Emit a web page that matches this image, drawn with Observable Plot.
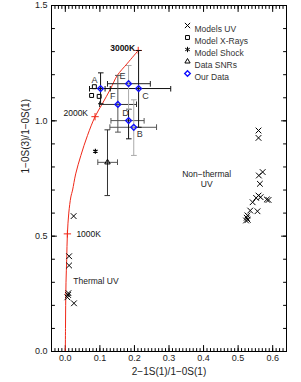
<!DOCTYPE html>
<html><head><meta charset="utf-8">
<script src="https://cdn.jsdelivr.net/npm/d3@7"></script>
<script src="https://cdn.jsdelivr.net/npm/@observablehq/plot@0.6"></script>
<style>body{margin:0;background:#fff}#chart svg{display:block}</style>
</head><body><div id="chart"></div>
<script>
// ---- data ----
const curveX = [0, 0.0005, 0.001, 0.002, 0.004, 0.006, 0.010, 0.016, 0.021, 0.030, 0.045, 0.064, 0.086, 0.107, 0.131, 0.150, 0.180, 0.211];
const curveY = [0, 0.10, 0.20, 0.30, 0.40, 0.51, 0.60, 0.67, 0.70, 0.77, 0.85, 0.936, 1.018, 1.074, 1.139, 1.196, 1.25, 1.305];
const tempLabels = ["1000K", "2000K", "3000K"];
const tempX = [0.006, 0.086, 0.211];
const tempY = [0.51, 1.018, 1.305];

const uvX = [0.024, 0.011, 0.011, 0.009, 0.008, 0.006, 0.025,
  0.559, 0.559, 0.571, 0.560, 0.563, 0.559, 0.552, 0.565, 0.542, 0.583, 0.588, 0.556, 0.535, 0.527, 0.525, 0.528, 0.523];
const uvY = [0.587, 0.413, 0.373, 0.253, 0.245, 0.235, 0.209,
  0.958, 0.926, 0.778, 0.763, 0.727, 0.676, 0.666, 0.669, 0.647, 0.659, 0.657, 0.608, 0.611, 0.590, 0.580, 0.571, 0.568];

const xrayX = [0.084, 0.076, 0.098];
const xrayY = [1.148, 1.110, 1.106];

const shockX = [0.087];
const shockY = [0.868];

const snrX = [0.122], snrY = [0.820];
const snrXlo = [0.094], snrXhi = [0.151], snrYlo = [0.676], snrYhi = [0.961];

const ourLabels = ["A", "B", "C", "D", "E", "F"];
const ourX   = [0.102, 0.198, 0.212, 0.183, 0.183, 0.152];
const ourY   = [1.140, 0.972, 1.140, 1.001, 1.161, 1.071];
const ourXlo = [0.070, 0.129, 0.115, 0.132, 0.122, 0.099];
const ourXhi = [0.130, 0.264, 0.305, 0.228, 0.246, 0.206];
const ourYlo = [1.074, 0.850, 0.972, 0.922, 1.050, 0.951];
const ourYhi = [1.208, 1.091, 1.305, 1.050, 1.240, 1.197];

const legendLabels = ["Models UV", "Model X-Rays", "Model Shock", "Data SNRs", "Our Data"];
const xTickLabels = [0, 0.1, 0.2, 0.3, 0.4, 0.5, 0.6];
const yTickLabels = [0, 0.5, 1.0, 1.5];
const xTitle = "2\u22121S(1)/1\u22120S(1)";
const yTitle = "1\u22120S(3)/1\u22120S(1)";
const thermalText = "Thermal UV", thermalX = 0.023, thermalY = 0.305;
const nonThermalText = "Non\u2212thermal\nUV", nonThermalX = 0.409, nonThermalY = 0.75;

// ---- tables ----
const curve = curveX.map((x, i) => ({x, y: curveY[i]}));
const temps = tempLabels.map((t, i) => ({t, x: tempX[i], y: tempY[i]}));
const uv = uvX.map((x, i) => ({x, y: uvY[i]}));
const xray = xrayX.map((x, i) => ({x, y: xrayY[i]}));
const shock = shockX.map((x, i) => ({x, y: shockY[i]}));
const snr = snrX.map((x, i) => ({x, y: snrY[i], xlo: snrXlo[i], xhi: snrXhi[i], ylo: snrYlo[i], yhi: snrYhi[i]}));
const ours = ourLabels.map((l, i) => ({l, x: ourX[i], y: ourY[i], xlo: ourXlo[i], xhi: ourXhi[i], ylo: ourYlo[i], yhi: ourYhi[i]}));

// ---- styles ----
const RED = "#f02818", BLUE = "#1010ff";
const xBarColor = {A: "#111", B: "#555", C: "#111", D: "#555", E: "#222", F: "#333"};
const yBarColor = {A: "#111", B: "#aaa", C: "#111", D: "#111", E: "#aaa", F: "#555"};
const labelOffset = {A: [-6, -8], B: [6, 7], C: [7, 8], D: [-3, -7], E: [-6, -8], F: [-5, -8]};
const tempOffset = {"1000K": [9, 0, "start"], "2000K": [-7, -3, "end"], "3000K": [-3, -2, "end"]};

const tickShape = {draw(ctx, l) { ctx.moveTo(0, 0); ctx.lineTo(0, -l); }};
const xMinor = d3.range(-3, 64).map(d => d / 100);
const xMajor = d3.range(0, 7).map(d => d / 10);
const yMinor = d3.range(1, 15).map(d => d / 10);
const yMajor = [0.5, 1.0];

function ticks(data, anchor, len) {
  const rot = {bottom: 0, top: 180, left: 90, right: -90}[anchor];
  const isX = anchor === "bottom" || anchor === "top";
  return Plot.vector(data, {
    [isX ? "x" : "y"]: d => d, frameAnchor: anchor, length: len, rotate: rot,
    anchor: "start", shape: tickShape, stroke: "#000", strokeWidth: 1
  });
}

const marks = [
  ticks(xMinor, "bottom", 3), ticks(xMajor, "bottom", 6),
  ticks(xMinor, "top", 3), ticks(xMajor, "top", 6),
  ticks(yMinor, "left", 3), ticks(yMajor, "left", 5),
  ticks(yMinor, "right", 3), ticks(yMajor, "right", 5),
  Plot.axisX({ticks: xTickLabels, tickSize: 0, tickPadding: 3, tickFormat: d3.format(".1f"), label: null, fontSize: 9, fill: "#222"}),
  Plot.axisY({ticks: yTickLabels, tickSize: 0, tickPadding: 4, tickFormat: d3.format(".1f"), label: null, fontSize: 9, fill: "#222"}),
  Plot.text([xTitle], {frameAnchor: "bottom", dy: 23, text: d => d, fontSize: 10, fill: "#222"}),
  Plot.text([yTitle], {frameAnchor: "left", dx: -26, dy: -5, rotate: -90, text: d => d, fontSize: 10, fill: "#222"}),

  // blackbody curve
  Plot.line(curve, {x: "x", y: "y", stroke: RED, strokeWidth: 1, curve: "catmull-rom"}),
  Plot.dot(temps, {x: "x", y: "y", symbol: "plus", r: 2.5, stroke: RED, strokeWidth: 1}),
  ...temps.map(t => Plot.text([t], {x: "x", y: "y", text: "t", dx: tempOffset[t.t][0], dy: tempOffset[t.t][1],
    textAnchor: tempOffset[t.t][2], fontSize: 8.5, fill: "#111", fontWeight: t.t === "3000K" ? "bold" : "normal"})),

  // models
  Plot.dot(uv, {x: "x", y: "y", symbol: "times", r: 2.7, stroke: "#000", strokeWidth: 1}),
  Plot.dot(xray, {x: "x", y: "y", symbol: "square2", r: 2.5, stroke: "#000", strokeWidth: 1}),
  Plot.dot(shock, {x: "x", y: "y", symbol: "asterisk", r: 2.4, stroke: "#000", strokeWidth: 1.2}),

  // SNR data
  Plot.link(snr, {x1: "xlo", x2: "xhi", y1: "y", y2: "y", stroke: "#555", markerStart: "tick", markerEnd: "tick"}),
  Plot.link(snr, {x1: "x", x2: "x", y1: "ylo", y2: "yhi", stroke: "#333", markerStart: "tick", markerEnd: "tick"}),
  Plot.dot(snr, {x: "x", y: "y", symbol: "triangle2", r: 2.6, stroke: "#000", strokeWidth: 1, fill: "none"}),

  // our data
  Plot.link(ours, {x1: "xlo", x2: "xhi", y1: "y", y2: "y", stroke: d => xBarColor[d.l], markerStart: "tick", markerEnd: "tick"}),
  Plot.link(ours, {x1: "x", x2: "x", y1: "ylo", y2: "yhi", stroke: d => yBarColor[d.l], markerStart: "tick", markerEnd: "tick"}),
  Plot.dot(ours, {x: "x", y: "y", symbol: "diamond2", r: 2.6, stroke: BLUE, strokeWidth: 1.4}),
  ...ours.map(o => Plot.text([o], {x: "x", y: "y", text: "l", dx: labelOffset[o.l][0], dy: labelOffset[o.l][1], fontSize: 9, fill: "#333"})),

  // annotations
  Plot.text([thermalText], {x: () => thermalX, y: () => thermalY, text: d => d, textAnchor: "start", fontSize: 8.5, fill: "#222"}),
  Plot.text([nonThermalText], {x: () => nonThermalX, y: () => nonThermalY, text: d => d, fontSize: 8.5, fill: "#222", lineHeight: 1.15}),

  Plot.frame({stroke: "#000", strokeWidth: 1})
];

// legend
const legendSymbols = ["times", "square2", "asterisk", "triangle2", "diamond2"];
const legendStroke = ["#000", "#000", "#000", "#000", BLUE];
legendLabels.forEach((lab, i) => {
  marks.push(Plot.dot([lab], {frameAnchor: "top-left", dx: 136, dy: 20 + 12 * i, symbol: legendSymbols[i], r: 2.5,
    stroke: legendStroke[i], strokeWidth: i === 4 ? 1.4 : 1}));
  marks.push(Plot.text([lab], {frameAnchor: "top-left", dx: 143, dy: 20 + 12 * i, text: d => d, textAnchor: "start", fontSize: 8.5, fill: "#333"}));
});

const chart = Plot.plot({
  width: 301, height: 382,
  marginLeft: 51, marginRight: 15, marginTop: 5, marginBottom: 31,
  style: {fontFamily: "'Liberation Sans', Arial, sans-serif", fontSize: "9px", background: "#fff"},
  x: {domain: [-0.04, 0.64]},
  y: {domain: [0, 1.5]},
  color: {type: "identity"},
  marks
});
document.getElementById("chart").appendChild(chart);
</script>
</body></html>
